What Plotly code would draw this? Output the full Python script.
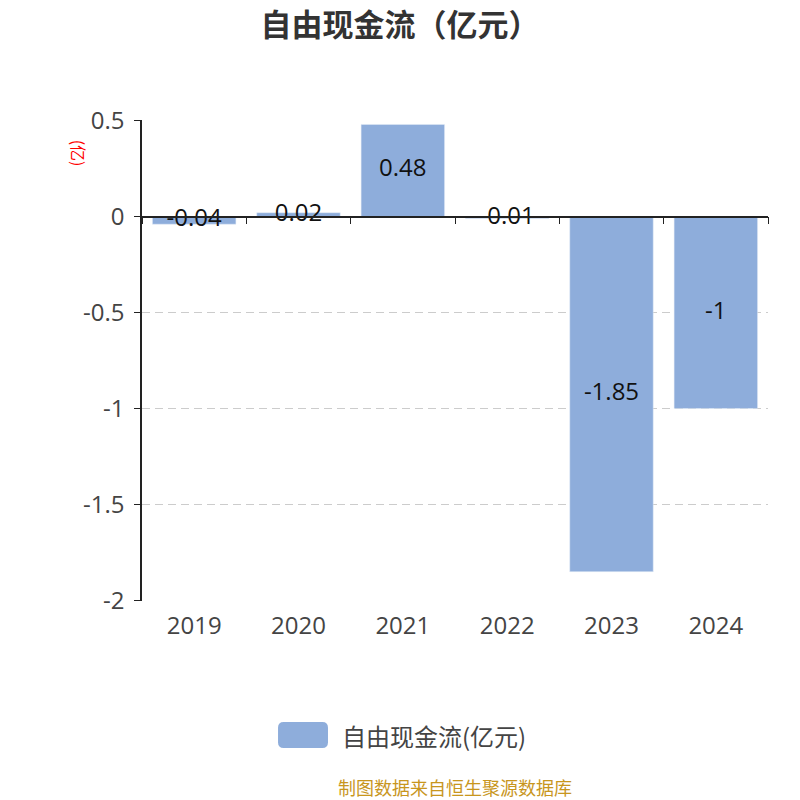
import plotly.graph_objects as go

years = ['2019', '2020', '2021', '2022', '2023', '2024']
fcf = [-0.04, 0.02, 0.48, -0.01, -1.85, -1.0]
labels = ['-0.04', '0.02', '0.48', '-0.01', '-1.85', '-1']
y_ticks = [0.5, 0, -0.5, -1, -1.5, -2]
y_ticktext = ['0.5', '0', '-0.5', '-1', '-1.5', '-2']

FONT = 'Open Sans, Noto Sans CJK SC'
CJK = 'Noto Sans CJK SC'
BAR = '#8eaddb'

fig = go.Figure()
fig.add_trace(go.Bar(x=years, y=fcf, name='自由现金流(亿元)', marker_color=BAR,
                     width=0.8, hoverinfo='skip', showlegend=False))
# value labels in the middle of each bar
fig.add_trace(go.Scatter(x=years, y=[v / 2 for v in fcf], text=labels, mode='text',
                         textfont=dict(size=24, color='#111', family=FONT),
                         showlegend=False, hoverinfo='skip'))
# axis line through zero with ticks between categories
fig.add_trace(go.Scatter(x=years, y=[None] * len(years), xaxis='x2', showlegend=False,
                         hoverinfo='skip'))

lo, hi = y_ticks[-1] - 0.003, y_ticks[0] + 0.003
zero_pos = (0 - lo) / (hi - lo)

fig.update_layout(
    width=800, height=800,
    margin=dict(l=142, r=32, t=120, b=199, autoexpand=False),
    paper_bgcolor='white', plot_bgcolor='white',
    font=dict(family=FONT, color='#444'),
    title=dict(text='<b>自由现金流（亿元）</b>', x=0.5, xanchor='center',
               y=0.969, yanchor='middle', font=dict(size=31, color='#333', family=CJK)),
    xaxis=dict(type='category', showline=False, showgrid=False, ticks='',
               tickfont=dict(size=24, color='#444'), range=[-0.5, 5.5], automargin=False,
               ticklabelstandoff=8),
    xaxis2=dict(type='category', overlaying='x', anchor='free', position=zero_pos,
                range=[-0.5, 5.5], showline=True, linecolor='#222', linewidth=1.5,
                ticks='outside', ticklen=7, tickcolor='#222', tickson='boundaries',
                showticklabels=False, showgrid=False, automargin=False),
    yaxis=dict(range=[lo, hi], tickvals=y_ticks, ticktext=y_ticktext,
               showline=True, linecolor='#222', linewidth=1.5, ticks='outside',
               ticklen=6, tickcolor='#222', showgrid=True, gridcolor='#cccccc',
               griddash='8px,5px', gridwidth=1, zeroline=False, automargin=False,
               ticklabelstandoff=5, tickfont=dict(size=24, color='#444')),
    showlegend=False,
)

# legend drawn by hand: rounded swatch + label
x0, x1, y0, y1 = 0.2173, 0.2971, -0.2516, -0.3056
rx, ry = 0.009, 0.012
fig.add_shape(type='path', xref='paper', yref='paper', fillcolor=BAR, line_width=0,
              path=(f'M {x0+rx},{y0} L {x1-rx},{y0} Q {x1},{y0} {x1},{y0-ry} '
                    f'L {x1},{y1+ry} Q {x1},{y1} {x1-rx},{y1} L {x0+rx},{y1} '
                    f'Q {x0},{y1} {x0},{y1+ry} L {x0},{y0-ry} Q {x0},{y0} {x0+rx},{y0} Z'))
fig.add_annotation(text='自由现金流(亿元)', xref='paper', yref='paper', x=0.3163,
                   y=-0.2786, xanchor='left', yanchor='middle', showarrow=False,
                   font=dict(size=24, color='#444', family=CJK))

fig.add_annotation(text='(亿)', xref='paper', yref='paper', x=-0.1014, y=0.931,
                   xanchor='center', yanchor='middle', textangle=90, showarrow=False,
                   font=dict(size=16, color='red', family=CJK))
fig.add_annotation(text='制图数据来自恒生聚源数据库', xref='paper', yref='paper', x=0.5,
                   y=-0.3867, xanchor='center', yanchor='middle', showarrow=False,
                   font=dict(size=18, color='#c8961e', family=CJK))

# drop the default page margin so the figure sits at the window corner
fig.write_html('out.html', config={'displayModeBar': False},
               post_script="document.body.style.margin='0px';")
